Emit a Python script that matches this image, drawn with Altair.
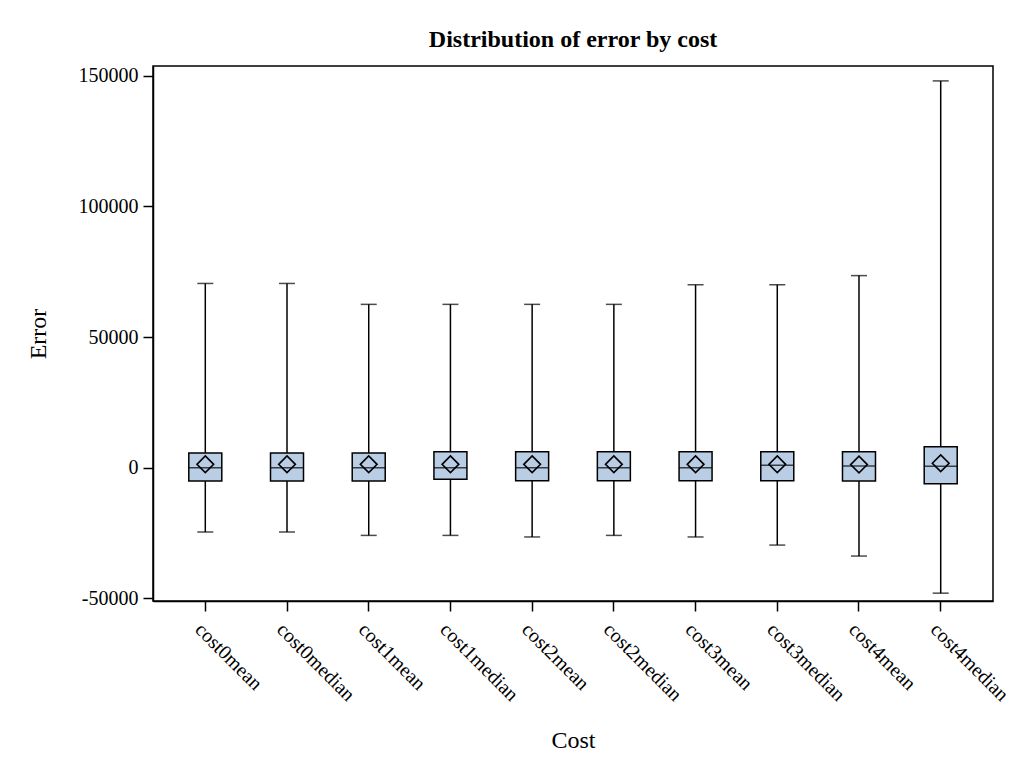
import altair as alt
import pandas as pd

categories = ["cost0mean", "cost0median", "cost1mean", "cost1median", "cost2mean",
              "cost2median", "cost3mean", "cost3median", "cost4mean", "cost4median"]
whisker_low = [-24600, -24600, -25900, -25900, -26500, -25900, -26500, -29600, -33800, -48000]
q1 = [-5100, -5100, -5100, -4400, -5000, -5000, -5000, -5000, -5100, -6100]
median = [0, 0, 0, 0, 0, 0, 0, 900, 700, 600]
mean = [1300, 1300, 1300, 1300, 1300, 1300, 1300, 1300, 1200, 1700]
q3 = [5600, 5600, 5600, 6100, 6100, 6100, 6100, 6100, 6100, 8000]
whisker_high = [70500, 70500, 62500, 62500, 62500, 62500, 70000, 70000, 73500, 148000]
y_ticks = [-50000, 0, 50000, 100000, 150000]

df = pd.DataFrame({
    "Cost": categories, "low": whisker_low, "q1": q1, "median": median,
    "mean": mean, "q3": q3, "high": whisker_high,
})

FONT = "Liberation Serif"
BOX_FILL = "#B9CDE5"

x_enc = alt.X("Cost:N", sort=categories,
              scale=alt.Scale(type="band", paddingInner=0, paddingOuter=0.14),
              axis=alt.Axis(title="Cost", labelAngle=45, labelAlign="left", labelBaseline="top",
                            tickSize=10, labelPadding=8, titlePadding=24,
                            labelFontSize=20, titleFontSize=24, titleFontWeight="normal"))
y_scale = alt.Scale(domain=[-51000, 153700], nice=False, zero=False)
y_axis = alt.Axis(title="Error", values=y_ticks,
                  labelExpr="datum.value < 0 ? '-' + format(-datum.value, 'd') : format(datum.value, 'd')",
                  tickSize=10, labelPadding=5, titlePadding=28, grid=False,
                  labelFontSize=20, titleFontSize=24, titleFontWeight="normal")

base = alt.Chart(df).encode(x=x_enc)

whisker = base.mark_rule(color="black", strokeWidth=1.5).encode(
    y=alt.Y("low:Q", scale=y_scale, axis=y_axis), y2="high:Q")
box = base.mark_bar(size=33, fill=BOX_FILL, stroke="black", strokeWidth=1.5).encode(
    y=alt.Y("q1:Q", scale=y_scale, axis=y_axis), y2="q3:Q")
med = base.mark_tick(size=33, thickness=1.5, color="black").encode(
    y=alt.Y("median:Q", scale=y_scale, axis=y_axis))
cap_low = base.mark_tick(size=16, thickness=1.5, color="black").encode(
    y=alt.Y("low:Q", scale=y_scale, axis=y_axis))
cap_high = base.mark_tick(size=16, thickness=1.5, color="black").encode(
    y=alt.Y("high:Q", scale=y_scale, axis=y_axis))
mean_pt = base.mark_point(shape="diamond", size=280, filled=False, stroke="black",
                          strokeWidth=1.6, opacity=1).encode(
    y=alt.Y("mean:Q", scale=y_scale, axis=y_axis))

chart = alt.layer(whisker, box, med, cap_low, cap_high, mean_pt).properties(
    width=840, height=535,
    title=alt.TitleParams("Distribution of error by cost", font=FONT, fontSize=24,
                          fontWeight="bold", color="black", offset=14, anchor="middle"),
    autosize=alt.AutoSizeParams(type="none"),
    padding={"left": 145, "top": 58, "right": 20, "bottom": 160},
).configure(font=FONT).configure_view(
    stroke="black", strokeWidth=1.5
).configure_axis(
    labelFont=FONT, titleFont=FONT, labelColor="black", titleColor="black",
    domainColor="black", tickColor="black", domainWidth=1.5, tickWidth=1.5,
)

chart.save("out.html", embed_options={"renderer": "svg", "actions": False})
